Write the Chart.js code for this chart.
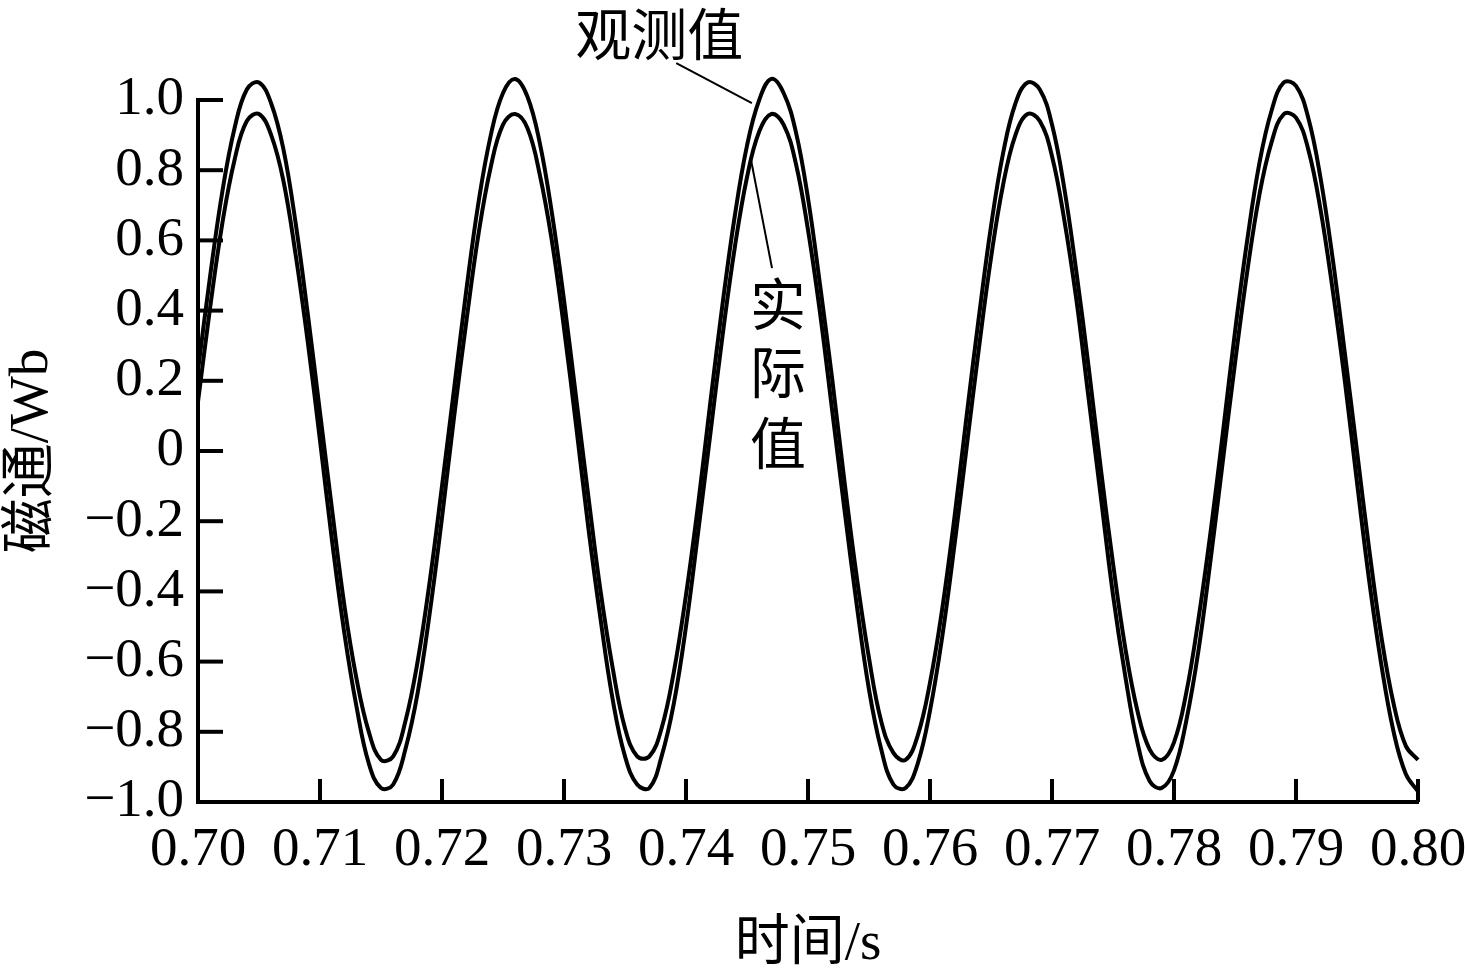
<!DOCTYPE html>
<html>
<head>
<meta charset="utf-8">
<script src="https://cdn.jsdelivr.net/npm/chart.js@4/dist/chart.umd.min.js"></script>
<style>
html,body{margin:0;padding:0;background:#fff;}
canvas{display:block;}
</style>
</head>
<body>
<canvas id="c" width="1465" height="980"></canvas>
<script>
const times = [
0.700,0.701,0.702,0.703,0.704,0.705,0.706,0.707,0.708,0.709,
0.710,0.711,0.712,0.713,0.714,0.715,0.716,0.717,0.718,0.719,
0.720,0.721,0.722,0.723,0.724,0.725,0.726,0.727,0.728,0.729,
0.730,0.731,0.732,0.733,0.734,0.735,0.736,0.737,0.738,0.739,
0.740,0.741,0.742,0.743,0.744,0.745,0.746,0.747,0.748,0.749,
0.750,0.751,0.752,0.753,0.754,0.755,0.756,0.757,0.758,0.759,
0.760,0.761,0.762,0.763,0.764,0.765,0.766,0.767,0.768,0.769,
0.770,0.771,0.772,0.773,0.774,0.775,0.776,0.777,0.778,0.779,
0.780,0.781,0.782,0.783,0.784,0.785,0.786,0.787,0.788,0.789,
0.790,0.791,0.792,0.793,0.794,0.795,0.796,0.797,0.798,0.799,
0.800];

const observed = [
0.23,0.50,0.74,0.92,1.03,1.05,0.99,0.86,0.65,0.39,
0.11,-0.17,-0.44,-0.65,-0.80,-0.88,-0.87,-0.77,-0.60,-0.37,
-0.10,0.18,0.46,0.71,0.90,1.02,1.06,1.01,0.88,0.68,
0.43,0.15,-0.13,-0.40,-0.62,-0.79,-0.87,-0.87,-0.79,-0.63,
-0.41,-0.15,0.14,0.42,0.67,0.87,1.00,1.06,1.02,0.91,
0.72,0.47,0.20,-0.09,-0.36,-0.59,-0.77,-0.86,-0.88,-0.81,
-0.66,-0.45,-0.19,0.10,0.38,0.64,0.85,0.99,1.05,1.03,
0.93,0.75,0.51,0.24,-0.05,-0.32,-0.56,-0.74,-0.85,-0.88,
-0.83,-0.69,-0.48,-0.23,0.05,0.34,0.60,0.82,0.97,1.05,
1.04,0.95,0.78,0.55,0.28,0.00,-0.28,-0.53,-0.72,-0.84,
-0.88];

const actual = [
0.14,0.41,0.65,0.83,0.94,0.96,0.90,0.77,0.56,0.31,
0.03,-0.26,-0.52,-0.73,-0.89,-0.96,-0.95,-0.85,-0.69,-0.46,
-0.19,0.10,0.37,0.62,0.81,0.93,0.96,0.92,0.79,0.60,
0.35,0.07,-0.22,-0.48,-0.71,-0.87,-0.95,-0.96,-0.87,-0.72,
-0.50,-0.23,0.05,0.33,0.58,0.78,0.91,0.96,0.93,0.82,
0.63,0.39,0.11,-0.17,-0.44,-0.68,-0.85,-0.95,-0.96,-0.89,
-0.74,-0.53,-0.27,0.01,0.29,0.55,0.76,0.90,0.96,0.94,
0.84,0.66,0.43,0.15,-0.13,-0.41,-0.64,-0.83,-0.94,-0.96,
-0.91,-0.77,-0.57,-0.31,-0.03,0.25,0.51,0.73,0.88,0.96,
0.95,0.86,0.69,0.46,0.20,-0.09,-0.37,-0.61,-0.80,-0.92,
-0.97];

const xTickValues = [0.70,0.71,0.72,0.73,0.74,0.75,0.76,0.77,0.78,0.79,0.80];
const xTickLabels = ['0.70','0.71','0.72','0.73','0.74','0.75','0.76','0.77','0.78','0.79','0.80'];
const yTickValues = [-1.0,-0.8,-0.6,-0.4,-0.2,0,0.2,0.4,0.6,0.8,1.0];
const yTickLabels = ['\u22121.0','\u22120.8','\u22120.6','\u22120.4','\u22120.2','0','0.2','0.4','0.6','0.8','1.0'];

const seriesNames = ['观测值','实际值'];
const xTitle = '时间/s';
const yTitle = '磁通/Wb';

const FONT = '"Liberation Serif", "Noto Sans CJK SC", serif';
const CJK = '"Noto Sans CJK SC", "Liberation Serif", sans-serif';

function pts(ys){ return times.map((t,i)=>({x:t,y:ys[i]})); }

const decor = {
  id:'decor',
  afterDraw(chart){
    const ctx = chart.ctx;
    const xs = chart.scales.x, ys = chart.scales.y;
    const ca = chart.chartArea;
    ctx.save();
    ctx.strokeStyle = '#000';
    ctx.lineWidth = 4;
    ctx.lineCap = 'butt';
    // inward ticks
    xTickValues.forEach(v=>{
      const px = xs.getPixelForValue(v);
      ctx.beginPath(); ctx.moveTo(px, ca.bottom); ctx.lineTo(px, ca.bottom-23); ctx.stroke();
    });
    yTickValues.forEach(v=>{
      const py = ys.getPixelForValue(v);
      ctx.beginPath(); ctx.moveTo(ca.left, py); ctx.lineTo(ca.left+25, py); ctx.stroke();
    });
    // leader lines
    ctx.lineWidth = 2;
    ctx.beginPath();
    ctx.moveTo(xs.getPixelForValue(0.7392), ys.getPixelForValue(1.105));
    ctx.lineTo(xs.getPixelForValue(0.7454), ys.getPixelForValue(0.991));
    ctx.stroke();
    ctx.beginPath();
    ctx.moveTo(xs.getPixelForValue(0.74705), ys.getPixelForValue(0.521));
    ctx.lineTo(xs.getPixelForValue(0.74533), ys.getPixelForValue(0.829));
    ctx.stroke();
    // series labels
    ctx.fillStyle = '#000';
    ctx.font = '56px ' + CJK;
    ctx.textAlign = 'center';
    ctx.textBaseline = 'middle';
    ctx.fillText(seriesNames[0], xs.getPixelForValue(0.7378), ys.getPixelForValue(1.19));
    const chars = Array.from(seriesNames[1]);
    const cx = xs.getPixelForValue(0.74754);
    const vals = [0.42, 0.225, 0.023];
    chars.forEach((ch,i)=>{ ctx.fillText(ch, cx, ys.getPixelForValue(vals[i])); });
    ctx.restore();
  }
};

new Chart(document.getElementById('c'), {
  type:'line',
  data:{
    datasets:[
      {label:seriesNames[0], data:pts(observed), borderColor:'#000', borderWidth:4, pointRadius:0, tension:0.4, fill:false, clip:false},
      {label:seriesNames[1], data:pts(actual), borderColor:'#000', borderWidth:4, pointRadius:0, tension:0.4, fill:false, clip:false}
    ]
  },
  options:{
    responsive:false,
    animation:false,
    devicePixelRatio:1,
    layout:{padding:{left:0, top:100, right:0, bottom:0}},
    plugins:{legend:{display:false}, tooltip:{enabled:false}},
    scales:{
      x:{
        type:'linear', min:0.70, max:0.80,
        afterBuildTicks(s){ s.ticks = xTickValues.map(v=>({value:v})); },
        afterFit(s){ s.height = 178; s.paddingRight = 47; s.paddingLeft = 0; },
        ticks:{autoSkip:false, maxRotation:0, minRotation:0, padding:16, color:'#000',
          font:{family:FONT, size:55},
          callback(v,i){ return xTickLabels[i]; }},
        grid:{display:true, drawOnChartArea:false, drawTicks:false},
        border:{display:true, color:'#000', width:4},
        title:{display:true, text:xTitle, color:'#000', font:{family:FONT, size:55}, padding:{top:0,bottom:2}}
      },
      y:{
        type:'linear', min:-1, max:1,
        afterBuildTicks(s){ s.ticks = yTickValues.map(v=>({value:v})); },
        afterFit(s){ s.width = 198; },
        ticks:{autoSkip:false, padding:14, color:'#000',
          font:{family:FONT, size:55},
          callback(v,i){ return yTickLabels[i]; }},
        grid:{display:true, drawOnChartArea:false, drawTicks:false},
        border:{display:true, color:'#000', width:4},
        title:{display:true, text:yTitle, color:'#000', font:{family:FONT, size:55}, padding:{top:0,bottom:0}}
      }
    }
  },
  plugins:[decor]
});
</script>
</body>
</html>
